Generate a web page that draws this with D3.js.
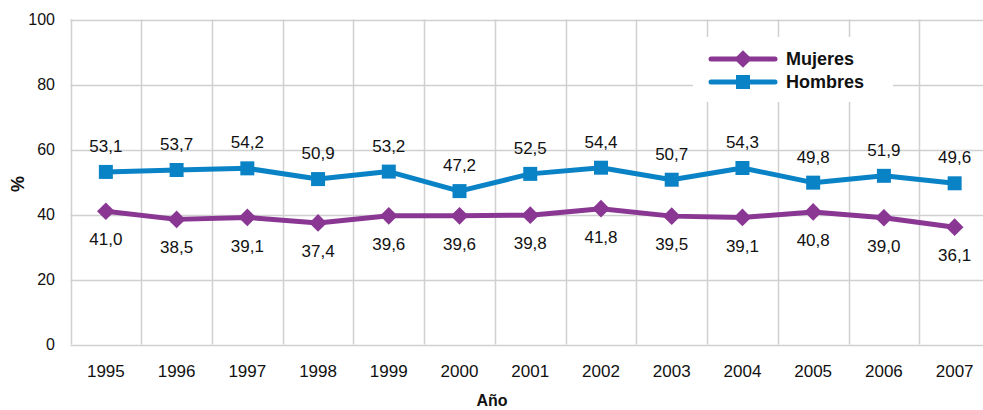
<!DOCTYPE html>
<html>
<head>
<meta charset="utf-8">
<script src="https://cdn.jsdelivr.net/npm/d3@7"></script>
<style>
  body { margin: 0; background: #fff; }
  svg { display: block; font-family: "Liberation Sans", Arial, Helvetica, sans-serif; }
</style>
</head>
<body>
<svg id="chart" width="983" height="410"></svg>
<script>
// Porcentaje por año y sexo
const years = ["1995","1996","1997","1998","1999","2000","2001","2002","2003","2004","2005","2006","2007"];
const mujeres = [41.0, 38.5, 39.1, 37.4, 39.6, 39.6, 39.8, 41.8, 39.5, 39.1, 40.8, 39.0, 36.1];
const hombres = [53.1, 53.7, 54.2, 50.9, 53.2, 47.2, 52.5, 54.4, 50.7, 54.3, 49.8, 51.9, 49.6];
const yTicks = [0, 20, 40, 60, 80, 100];

const series = [
  { name: "Mujeres", values: mujeres, color: "#8a3793", marker: "diamond", labelDy: 28 },
  { name: "Hombres", values: hombres, color: "#0a83c6", marker: "square", labelDy: -26 }
];

const svg = d3.select("#chart");
const plotLeft = 70.5, plotRight = 990, plotTop = 19.5, plotBottom = 344.5;

const x = d3.scaleBand().domain(years).range([plotLeft, plotRight]);
const y = d3.scaleLinear().domain([0, 100]).range([plotBottom, plotTop]);
const fmt = v => d3.format(".1f")(v).replace(".", ",");

const grid = svg.append("g");
// horizontal grid
grid.selectAll("line.h").data(yTicks).join("line")
  .attr("x1", plotLeft).attr("x2", plotRight)
  .attr("y1", d => Math.round(y(d)) + 0.5).attr("y2", d => Math.round(y(d)) + 0.5)
  .attr("stroke", "#d0d0d0").attr("stroke-width", 1.5);
// vertical grid at category boundaries
const bounds = years.map(d => x(d)).concat([plotRight]);
grid.selectAll("line.v").data(bounds).join("line")
  .attr("x1", d => Math.round(d) + 0.5).attr("x2", d => Math.round(d) + 0.5)
  .attr("y1", plotTop).attr("y2", plotBottom)
  .attr("stroke", "#d0d0d0").attr("stroke-width", 1.5);

// y axis labels
svg.append("g").selectAll("text").data(yTicks).join("text")
  .attr("x", 55).attr("y", d => y(d)).attr("dy", "0.36em")
  .attr("text-anchor", "end").attr("font-size", 16).attr("fill", "#111")
  .text(d => d);

// x axis labels
svg.append("g").selectAll("text").data(years).join("text")
  .attr("x", d => x(d) + x.bandwidth() / 2).attr("y", 371).attr("dy", "0.36em")
  .attr("text-anchor", "middle").attr("font-size", 17).attr("fill", "#111")
  .text(d => d);

// axis titles
svg.append("text").attr("transform", "translate(18,184) rotate(-90)")
  .attr("text-anchor", "middle").attr("dy", "0.36em")
  .attr("font-size", 18).attr("font-weight", "bold").attr("fill", "#111").text("%");
svg.append("text").attr("x", 492).attr("y", 406)
  .attr("text-anchor", "middle").attr("font-size", 16).attr("font-weight", "bold")
  .attr("fill", "#111").text("Año");

const cx = (d, i) => x(years[i]) + x.bandwidth() / 2;
const line = d3.line().x((d, i) => cx(d, i)).y(d => y(d));
const diamond = d3.symbol().type(d3.symbolDiamond2).size(200);
const square = d3.symbol().type(d3.symbolSquare).size(196);

series.forEach(s => {
  const g = svg.append("g");
  g.append("path").datum(s.values).attr("d", line)
    .attr("fill", "none").attr("stroke", s.color).attr("stroke-width", 5)
    .attr("stroke-linejoin", "round");
  g.selectAll("path.m").data(s.values).join("path")
    .attr("transform", (d, i) => `translate(${cx(d, i)},${y(d)})`)
    .attr("d", s.marker === "diamond" ? diamond : square)
    .attr("fill", s.color);
  g.selectAll("text").data(s.values).join("text")
    .attr("x", (d, i) => cx(d, i)).attr("y", d => y(d) + s.labelDy).attr("dy", "0.36em")
    .attr("text-anchor", "middle").attr("font-size", 17).attr("fill", "#111")
    .text(d => fmt(d));
});

// legend
const lg = svg.append("g");
lg.append("rect").attr("x", 693).attr("y", 37).attr("width", 200).attr("height", 65).attr("fill", "#fff");
series.forEach((s, i) => {
  const ly = 59 + i * 23;
  lg.append("line").attr("x1", 711).attr("x2", 775).attr("y1", ly).attr("y2", ly)
    .attr("stroke", s.color).attr("stroke-width", 5).attr("stroke-linecap", "round");
  lg.append("path").attr("transform", `translate(743,${ly})`)
    .attr("d", s.marker === "diamond" ? diamond : square).attr("fill", s.color);
  lg.append("text").attr("x", 786).attr("y", ly).attr("dy", "0.36em")
    .attr("font-size", 18).attr("font-weight", "bold").attr("fill", "#111").text(s.name);
});
</script>
</body>
</html>
